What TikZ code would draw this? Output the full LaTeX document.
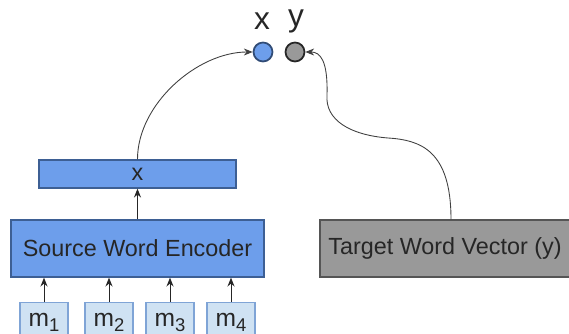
\documentclass[tikz,border=0pt]{standalone}
\usepackage{fontspec}
\setmainfont{Liberation Sans}
\usetikzlibrary{arrows.meta}
\definecolor{bluefill}{HTML}{6D9EEB}
\definecolor{blueedge}{HTML}{3D5F94}
\definecolor{lightfill}{HTML}{CFE2F3}
\definecolor{lightedge}{HTML}{7FA4D6}
\definecolor{grayfill}{HTML}{999999}
\definecolor{grayedge}{HTML}{555555}
\newcommand{\msub}[1]{m\raisebox{-0.35ex}{\fontsize{10.5}{12}\selectfont #1}}
\begin{document}
\begin{tikzpicture}[x=0.02cm,y=-0.02cm,
  bluebox/.style={draw=blueedge,fill=bluefill,line width=0.8pt,inner sep=0pt},
  graybox/.style={draw=grayedge,fill=grayfill,line width=0.8pt,inner sep=0pt},
  mbox/.style={draw=lightedge,fill=lightfill,line width=0.6pt,inner sep=0pt},
  dot/.style={circle,minimum size=0.38cm,inner sep=0pt,line width=1pt},
  lbl/.style={font=\fontsize{13.3}{15}\selectfont,text=black!85},
  mlbl/.style={font=\fontsize{14}{16}\selectfont,text=black!85},
  arr/.style={-{Stealth[length=5pt,width=4pt]},line width=0.5pt,draw=black!85},
  curvy/.style={-{Stealth[length=5pt,width=4pt]},line width=0.5pt,draw=black!75}]
\useasboundingbox (0,0) rectangle (569,334);
\clip (0,0) rectangle (569,334);
% top circles
\node[dot,draw=blueedge!80!black,fill=bluefill] (cx) at (263,52) {};
\node[dot,draw=black!85,fill=grayfill] (cy) at (295,52) {};
\node[font=\fontsize{18}{20}\selectfont,text=black!85] (lx) at (262,21) {x};
\node[font=\fontsize{18}{20}\selectfont,text=black!85] (ly) at (296,21) {y};
% x box
\node[bluebox,minimum width=197*0.02cm,minimum height=28*0.02cm,lbl] (xb) at (137.5,174) {x};
% encoder
\node[bluebox,minimum width=253*0.02cm,minimum height=57*0.02cm,lbl] (enc) at (137.5,248.5) {Source Word Encoder};
% target
\node[graybox,minimum width=250*0.02cm,minimum height=57*0.02cm,lbl] (tgt) at (445,248.5) {Target Word Vector (y)};
% m boxes
\node[mbox,minimum width=48*0.02cm,minimum height=44*0.02cm,anchor=north] (m1) at (44,302) {};
\node[mbox,minimum width=48*0.02cm,minimum height=44*0.02cm,anchor=north] (m2) at (109,302) {};
\node[mbox,minimum width=48*0.02cm,minimum height=44*0.02cm,anchor=north] (m3) at (170,302) {};
\node[mbox,minimum width=48*0.02cm,minimum height=44*0.02cm,anchor=north] (m4) at (231,302) {};
\node[mlbl,anchor=base] (t1) at (44,327) {\msub{1}};
\node[mlbl,anchor=base] (t2) at (109,327) {\msub{2}};
\node[mlbl,anchor=base] (t3) at (170,327) {\msub{3}};
\node[mlbl,anchor=base] (t4) at (231,327) {\msub{4}};
% arrows
\foreach \i in {1,2,3,4} {
  \draw[arr] (m\i.north) -- (m\i.north |- enc.south);
}
\draw[arr] (enc.north) -- (xb.south);
\draw[curvy] (xb.north) to[out=90,in=180,looseness=0.9] (cx.west);
\coordinate (mid) at (388,138);
\coordinate (bend) at (327,95);
\draw[curvy] (tgt.north -| 451,0) .. controls (451,150) and (420,140) .. (mid)
  .. controls (350,135) and (325,120) .. (bend)
  .. controls (328,60) and (320,52) .. (cy.east);
\end{tikzpicture}
\end{document}
